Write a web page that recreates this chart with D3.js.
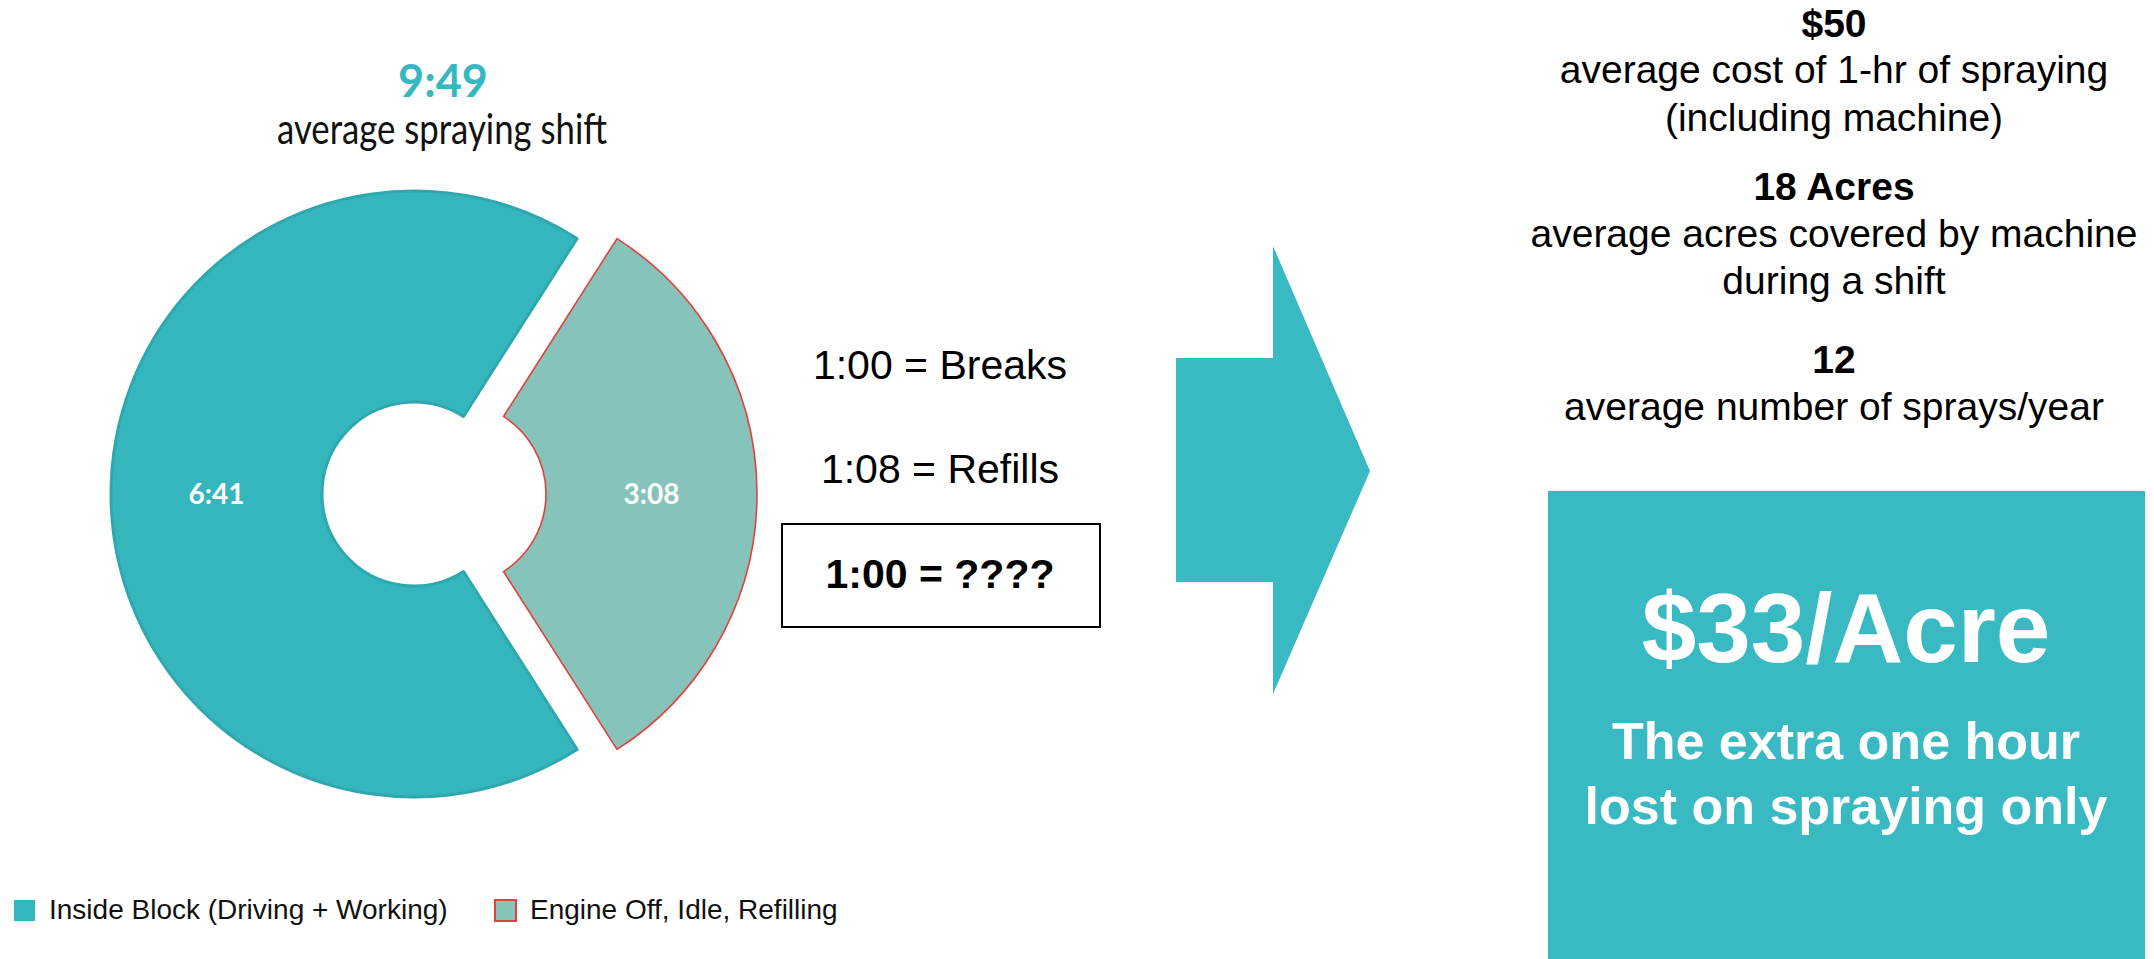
<!DOCTYPE html>
<meta charset="utf-8">
<head>
<script src="https://cdn.jsdelivr.net/npm/d3@7"></script>
<style>
body { margin: 0; background: #fff; }
.calibri { font-family: Lato, "Open Sans", sans-serif; }
.helv { font-family: "Liberation Sans", Arial, sans-serif; }
</style>
</head>
<body>
<div id="graph"></div>
<script>
// shift split, in minutes (6:41 and 3:08 of a 9:49 shift)
var segments = ["Inside Block (Driving + Working)", "Engine Off, Idle, Refilling"];
var minutes = [401, 188];
var sliceLabels = ["6:41", "3:08"];
var colors = ["#35b6bd", "#86c3bb"];
var strokes = ["#2ea8ae", "#e2413b"];

var shiftTotal = "9:49";
var shiftCaption = "average spraying shift";

var breakdown = ["1:00 = Breaks", "1:08 = Refills", "1:00 = ????"];

var statValues = ["$50", "18 Acres", "12"];
var statLines = [["average cost of 1-hr of spraying", "(including machine)"],
                 ["average acres covered by machine", "during a shift"],
                 ["average number of sprays/year"]];

var result = "$33/Acre";
var resultLines = ["The extra one hour", "lost on spraying only"];

var teal = "#39b9c1";
var W = 2154, H = 959;

var svg = d3.select("#graph").append("svg")
    .attr("width", W)
    .attr("height", H);

//---------------- donut
var cx = 414, cy = 494, rOut = 303, rIn = 92, explode = 40;
var total = d3.sum(minutes);
var frac = minutes[1] / total;

// second slice centred on 3 o'clock, main slice takes the rest
var pie = d3.pie().sort(null).value(d => d.v)
    .startAngle(Math.PI / 2 - frac * Math.PI)
    .endAngle(Math.PI / 2 - frac * Math.PI + 2 * Math.PI);

var data = [{v: minutes[1], i: 1}, {v: minutes[0], i: 0}];
var arc = d3.arc().innerRadius(rIn).outerRadius(rOut);

var g = svg.append("g").attr("transform", "translate(" + cx + "," + cy + ")");
var slices = g.selectAll(".slice")
    .data(pie(data))
    .enter().append("g")
    .attr("class", "slice")
    .attr("transform", function(d) {
      if (d.data.i == 0) return null;
      var a = (d.startAngle + d.endAngle) / 2;
      return "translate(" + (Math.sin(a) * explode) + "," + (-Math.cos(a) * explode) + ")";
    });

slices.append("path")
    .attr("d", arc)
    .style("fill", d => colors[d.data.i])
    .style("stroke", d => strokes[d.data.i])
    .style("stroke-width", d => d.data.i == 0 ? 3 : 1.6)
    .style("stroke-linejoin", "round");

slices.append("text")
    .attr("class", "calibri")
    .attr("transform", d => "translate(" + arc.centroid(d) + ")")
    .attr("dy", "0.36em")
    .attr("text-anchor", "middle")
    .style("font-size", "28px")
    .style("font-weight", "bold")
    .style("fill", "#fff")
    .text(d => sliceLabels[d.data.i]);

svg.append("text")
    .attr("class", "calibri")
    .attr("x", 443).attr("y", 97)
    .attr("text-anchor", "middle")
    .style("font-size", "45px")
    .style("font-weight", "bold")
    .style("fill", "#35b8c0")
    .text(shiftTotal);

// Calibri is narrow: squeeze Lato to the same width
svg.append("text")
    .attr("class", "calibri")
    .attr("x", 277).attr("y", 144)
    .attr("textLength", 330)
    .attr("lengthAdjust", "spacingAndGlyphs")
    .style("font-size", "43px")
    .style("fill", "#111")
    .text(shiftCaption);

//---------------- legend
var legend = svg.selectAll(".legend")
    .data(segments)
    .enter().append("g")
    .attr("class", "legend")
    .attr("transform", (d, i) => "translate(" + [14, 495][i] + ",900)");
legend.append("rect")
    .attr("width", 21).attr("height", 21)
    .style("fill", (d, i) => colors[i])
    .style("stroke", (d, i) => i == 0 ? "none" : strokes[i])
    .style("stroke-width", 2);
legend.append("text")
    .attr("class", "helv")
    .attr("x", 35).attr("y", 19)
    .style("font-size", "28px")
    .style("fill", "#111")
    .text(d => d);

//---------------- breakdown
var by = [379, 483, 588];
svg.selectAll(".brk")
    .data(breakdown)
    .enter().append("text")
    .attr("class", "helv brk")
    .attr("x", 940)
    .attr("y", (d, i) => by[i])
    .attr("text-anchor", "middle")
    .style("font-size", "41px")
    .style("font-weight", (d, i) => i == 2 ? "bold" : "normal")
    .style("fill", "#000")
    .text(d => d);
svg.append("rect")
    .attr("x", 782).attr("y", 524)
    .attr("width", 318).attr("height", 103)
    .style("fill", "none")
    .style("stroke", "#000")
    .style("stroke-width", 2);

//---------------- arrow
var arrow = d3.line();
svg.append("path")
    .attr("d", arrow([[1176, 358], [1273, 358], [1273, 246], [1370, 471],
                      [1273, 694], [1273, 582], [1176, 582]]) + "Z")
    .style("fill", teal);

//---------------- stats
var sx = 1834;
var sy = [[37, 83, 131], [200, 247, 294], [373, 420]];
statValues.forEach(function(v, k) {
  svg.append("text")
      .attr("class", "helv")
      .attr("x", sx).attr("y", sy[k][0])
      .attr("text-anchor", "middle")
      .style("font-size", "39px")
      .style("font-weight", "bold")
      .text(v);
  statLines[k].forEach(function(t, j) {
    svg.append("text")
        .attr("class", "helv")
        .attr("x", sx).attr("y", sy[k][j + 1])
        .attr("text-anchor", "middle")
        .style("font-size", "39px")
        .text(t);
  });
});

//---------------- result box
svg.append("rect")
    .attr("x", 1548).attr("y", 491)
    .attr("width", 597).attr("height", H - 491)
    .style("fill", teal);
svg.append("text")
    .attr("class", "helv")
    .attr("x", 1846).attr("y", 662)
    .attr("text-anchor", "middle")
    .style("font-size", "98px")
    .style("font-weight", "bold")
    .style("fill", "#fff")
    .text(result);
svg.selectAll(".res")
    .data(resultLines)
    .enter().append("text")
    .attr("class", "helv res")
    .attr("x", 1846)
    .attr("y", (d, i) => [759, 824][i])
    .attr("text-anchor", "middle")
    .style("font-size", "52px")
    .style("font-weight", "bold")
    .style("fill", "#fff")
    .text(d => d);
</script>
</body>
</html>
